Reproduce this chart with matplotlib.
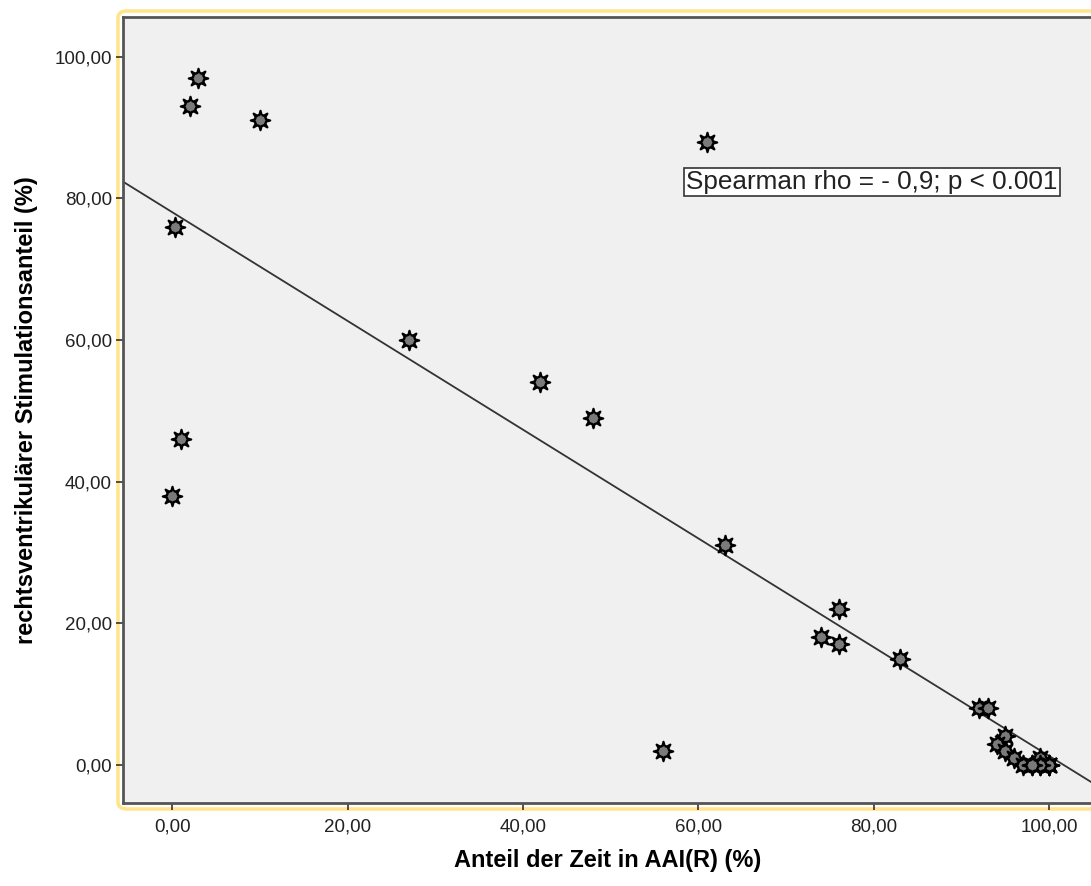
import numpy as np
import matplotlib
matplotlib.use("Agg")
import matplotlib.pyplot as plt
from matplotlib.patches import FancyBboxPatch

# Data
aai_time = [3, 2, 10, 0.3, 1, 0, 27, 42, 48, 61, 56, 63, 76, 74, 76, 83,
            92, 93, 95, 94, 95, 96, 97, 98, 99, 99, 100, 100, 100, 99, 98]
rv_stim = [97, 93, 91, 76, 46, 38, 60, 54, 49, 88, 2, 31, 22, 18, 17, 15,
           8, 8, 4, 3, 2, 1, 0, 0, 0, 1, 0, 0, 0, 0, 0]
x_ticks = [0, 20, 40, 60, 80, 100]
y_ticks = [0, 20, 40, 60, 80, 100]
x_label = "Anteil der Zeit in AAI(R) (%)"
y_label = "rechtsventrikulärer Stimulationsanteil (%)"
annotation = "Spearman rho = - 0,9; p < 0.001"

plt.rcParams['font.family'] = ['Liberation Sans', 'DejaVu Sans']

W, H = 1091, 886
fig = plt.figure(figsize=(W / 100, H / 100), dpi=100)
fig.patch.set_facecolor('white')

# axes in pixel coords: left 123, right 1093, top 17, bottom 803
l, r, t, b = 123, 1093, 17, 803
ax = fig.add_axes([l / W, 1 - b / H, (r - l) / W, (b - t) / H])
ax.set_facecolor('#f0f0f0')

# yellow selection frame
frame = FancyBboxPatch(((l - 5) / W, 1 - (b + 6) / H), (r - l + 20) / W, (b - t + 12) / H,
                       boxstyle="round,pad=0,rounding_size=0.008",
                       transform=fig.transFigure, facecolor='none',
                       edgecolor='#ffe48a', linewidth=2.5, zorder=-1)
fig.patches.append(frame)

# gear-like star marker: round body with 8 thin spikes
pts = []
for k in range(8):
    th = np.pi / 2 + k * np.pi / 4
    for rr, da in [(0.58, -0.2), (1.0, 0.0), (0.58, 0.2), (0.58, np.pi / 8)]:
        pts.append((rr * np.cos(th + da), rr * np.sin(th + da)))
verts = np.array(pts + [pts[0]])

xs = np.array(aai_time, dtype=float)
ys = np.array(rv_stim, dtype=float)
ax.plot(xs, ys, linestyle='none', marker=verts, markersize=14,
        markerfacecolor='#7a7a7a', markeredgecolor='black', markeredgewidth=1.6,
        zorder=3)

# linear fit line
slope, intercept = np.polyfit(xs, ys, 1)
xl = np.array([-10, 110])
ax.plot(xl, intercept + slope * xl, color='#333333', linewidth=1.3, zorder=2)

ax.set_xlim(-5.6, 105.0)
ax.set_ylim(-5.4, 105.6)
ax.set_xticks(x_ticks)
ax.set_yticks(y_ticks)
ax.set_xticklabels([f"{v:.2f}".replace('.', ',') for v in x_ticks])
ax.set_yticklabels([f"{v:.2f}".replace('.', ',') for v in y_ticks])
ax.tick_params(axis='both', direction='out', length=5, width=1.2, color='#333333',
               labelsize=13.5, labelcolor='#222222')
ax.tick_params(axis='x', pad=6)
ax.tick_params(axis='y', pad=3)

for s in ax.spines.values():
    s.set_color('#555555')
    s.set_linewidth(2)

ax.set_xlabel(x_label, fontsize=17, fontweight='bold', labelpad=10)
ax.set_ylabel(y_label, fontsize=17, fontweight='bold', labelpad=12)

ax.text(58.6, 82.3, annotation, fontsize=18.8, ha='left', va='center', color='#222222',
        bbox=dict(boxstyle='square,pad=0.08', facecolor='white', edgecolor='#333333',
                  linewidth=1.2), zorder=4)

fig.savefig('out.png', dpi=100, facecolor=fig.get_facecolor())
